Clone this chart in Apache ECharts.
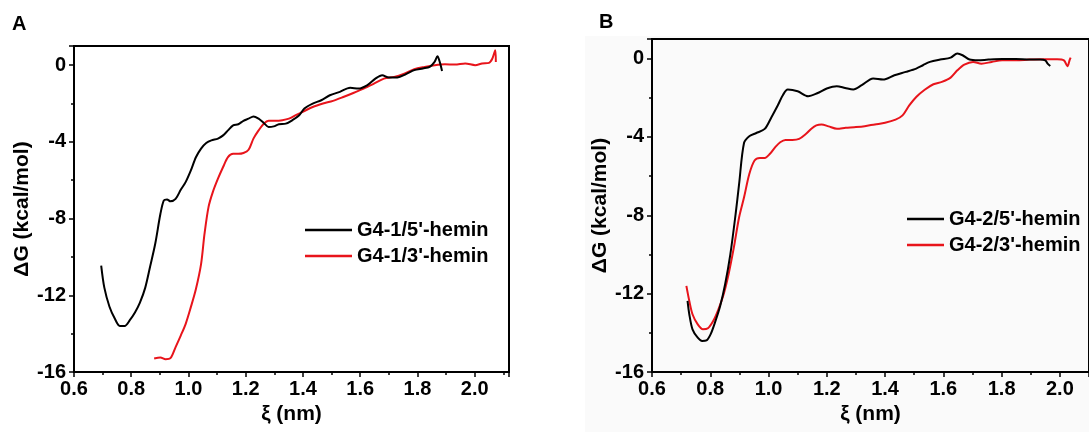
<!DOCTYPE html>
<html lang="en">
<head>
	<meta charset="UTF-8">
	<title>ΔG profiles</title>
	<style>
       html, body { margin: 0; padding: 0; background: #fff; }
       #box { width: 1089px; height: 432px; }
	</style>
	<script type="text/javascript" src="https://cdn.jsdelivr.net/npm/echarts@6/dist/echarts.min.js"></script>
</head>
<body>
	<div id="box"></div>
	<script type="text/javascript">
      // panel A, G4-1/5'-hemin (black)
      var a5_xi = [0.695,0.706,0.724,0.742,0.76,0.777,0.795,0.813,0.83,0.849,0.866,0.884,0.902,0.914,0.925,0.937,0.955,0.973,0.99,1.008,1.026,1.044,1.062,1.08,1.103,1.121,1.138,1.156,1.174,1.192,1.21,1.227,1.245,1.263,1.28,1.298,1.316,1.34,1.363,1.387,1.405,1.434,1.464,1.494,1.529,1.565,1.594,1.624,1.653,1.677,1.7,1.73,1.76,1.789,1.819,1.843,1.86,1.87,1.878,1.886];
      var a5_dg = [-10.45,-11.6,-12.6,-13.2,-13.6,-13.6,-13.3,-12.9,-12.4,-11.6,-10.5,-9.3,-7.75,-7.05,-7.0,-7.1,-6.97,-6.5,-6.1,-5.5,-4.8,-4.35,-4.06,-3.92,-3.83,-3.66,-3.4,-3.14,-3.08,-2.9,-2.79,-2.67,-2.79,-3.01,-3.22,-3.19,-3.08,-3.05,-2.87,-2.61,-2.26,-2.0,-1.83,-1.57,-1.39,-1.18,-1.22,-1.05,-0.7,-0.52,-0.64,-0.64,-0.47,-0.26,-0.17,-0.09,0.17,0.47,0.17,-0.3];
      // panel A, G4-1/3'-hemin (red)
      var a3_xi = [0.88,0.902,0.92,0.937,0.955,0.973,0.99,1.008,1.026,1.044,1.056,1.07,1.085,1.103,1.121,1.138,1.156,1.174,1.192,1.21,1.227,1.245,1.263,1.28,1.304,1.328,1.351,1.375,1.405,1.434,1.47,1.505,1.541,1.576,1.612,1.648,1.683,1.719,1.754,1.789,1.825,1.86,1.896,1.931,1.967,2.002,2.026,2.05,2.062,2.072,2.074];
      var a3_dg = [-15.3,-15.24,-15.33,-15.28,-14.7,-14.1,-13.5,-12.63,-11.67,-10.37,-8.8,-7.4,-6.62,-5.92,-5.31,-4.79,-4.62,-4.62,-4.58,-4.41,-3.83,-3.4,-3.05,-2.9,-2.9,-2.87,-2.79,-2.61,-2.39,-2.18,-2.0,-1.86,-1.66,-1.45,-1.22,-0.96,-0.7,-0.61,-0.44,-0.21,-0.09,0,0.05,0.03,0.09,0,0.09,0.12,0.35,0.78,0.17];
      // panel B, G4-2/5'-hemin (black)
      var b5_xi = [0.722,0.728,0.739,0.757,0.772,0.787,0.801,0.816,0.834,0.851,0.869,0.887,0.899,0.916,0.935,0.958,0.987,1.01,1.032,1.049,1.066,1.1,1.136,1.167,1.2,1.234,1.263,1.291,1.32,1.359,1.393,1.432,1.471,1.507,1.53,1.554,1.589,1.625,1.648,1.666,1.69,1.719,1.755,1.802,1.849,1.896,1.932,1.95,1.958,1.967];
      var b5_dg = [-12.37,-13.05,-13.82,-14.25,-14.42,-14.39,-14.08,-13.48,-12.63,-11.52,-9.98,-7.94,-6.4,-4.3,-3.95,-3.8,-3.59,-2.99,-2.38,-1.87,-1.58,-1.67,-1.92,-1.77,-1.53,-1.41,-1.5,-1.58,-1.36,-1.02,-1.07,-0.85,-0.68,-0.51,-0.34,-0.17,-0.05,0.05,0.26,0.17,-0.05,-0.09,-0.05,-0.02,-0.02,-0.05,-0.05,-0.09,-0.26,-0.38];
      // panel B, G4-2/3'-hemin (red)
      var b3_xi = [0.718,0.728,0.739,0.757,0.775,0.792,0.81,0.828,0.846,0.863,0.881,0.899,0.916,0.934,0.952,0.97,0.987,1.005,1.023,1.04,1.058,1.082,1.105,1.129,1.147,1.164,1.182,1.206,1.235,1.265,1.294,1.33,1.365,1.4,1.436,1.46,1.483,1.507,1.536,1.566,1.595,1.625,1.648,1.672,1.702,1.731,1.766,1.802,1.849,1.896,1.943,1.991,2.014,2.026,2.034,2.037];
      var b3_dg = [-11.6,-12.37,-13.05,-13.57,-13.82,-13.77,-13.4,-12.8,-12.03,-11.0,-9.64,-8.1,-7.08,-5.89,-5.2,-5.07,-5.07,-4.86,-4.52,-4.27,-4.15,-4.15,-4.1,-3.84,-3.58,-3.41,-3.36,-3.46,-3.58,-3.53,-3.5,-3.45,-3.36,-3.28,-3.12,-2.9,-2.39,-1.96,-1.59,-1.31,-1.19,-0.97,-0.6,-0.31,-0.17,-0.26,-0.17,-0.09,-0.09,-0.05,-0.03,-0.03,-0.09,-0.39,-0.05,0.05];

      var namesA = ["G4-1/5'-hemin", "G4-1/3'-hemin"];
      var namesB = ["G4-2/5'-hemin", "G4-2/3'-hemin"];

      var zip = function(xs, ys){
        var out = [];
        for (var i = 0; i < xs.length; i++) out.push([xs[i], ys[i]]);
        return out;
      };

      var FONT = 'Liberation Sans, Arial, sans-serif';

      var makeX = function(idx, max){
        return {
          gridIndex: idx, type: 'value', min: 0.6, max: max, interval: 0.2,
          name: 'ξ (nm)', nameLocation: 'middle', nameGap: 32,
          nameTextStyle: { color: '#000', fontSize: 21, fontWeight: 'bold', fontFamily: FONT },
          axisLine: { onZero: false, lineStyle: { color: '#000', width: 2 } },
          axisTick: { inside: false, length: 5, lineStyle: { color: '#000', width: 1.5 } },
          minorTick: { show: true, splitNumber: 2, length: 3, lineStyle: { color: '#000', width: 1.5 } },
          splitLine: { show: false },
          axisLabel: {
            color: '#000', fontSize: 20, fontWeight: 'bold', fontFamily: FONT, margin: 7,
            showMaxLabel: false,
            formatter: function(v){ return v.toFixed(1); }
          }
        };
      };
      var makeY = function(idx){
        return {
          gridIndex: idx, type: 'value', min: -16, max: 1, interval: 4,
          name: 'ΔG (kcal/mol)', nameLocation: 'middle', nameGap: 38, nameRotate: 90,
          nameTextStyle: { color: '#000', fontSize: 21, fontWeight: 'bold', fontFamily: FONT },
          axisLine: { onZero: false, lineStyle: { color: '#000', width: 2 } },
          axisTick: { inside: false, length: 5, lineStyle: { color: '#000', width: 1.5 } },
          minorTick: { show: true, splitNumber: 2, length: 3, lineStyle: { color: '#000', width: 1.5 } },
          splitLine: { show: false },
          axisLabel: { color: '#000', fontSize: 20, fontWeight: 'bold', fontFamily: FONT, margin: 8, showMaxLabel: false }
        };
      };
      var makeLine = function(name, idx, color, data){
        return {
          name: name, type: 'line', xAxisIndex: idx, yAxisIndex: idx,
          data: data, symbol: 'none', smooth: 0.3,
          lineStyle: { color: color, width: 2 }, itemStyle: { color: color },
          z: color === '#000' ? 3 : 2
        };
      };

      var chart = echarts.init(document.getElementById('box'));
      var option = {
        animation: false,
        backgroundColor: '#fff',
        graphic: [
          { type: 'rect', left: 585, top: 36, shape: { width: 504, height: 396 }, style: { fill: '#fafafa' }, z: -10 },
          { type: 'text', left: 12, top: 14, style: { text: 'A', fontSize: 20, fontWeight: 'bold', fontFamily: FONT, fill: '#000' } },
          { type: 'text', left: 599, top: 12, style: { text: 'B', fontSize: 20, fontWeight: 'bold', fontFamily: FONT, fill: '#000' } }
        ],
        grid: [
          { left: 74, top: 46, width: 435, height: 326, show: true, borderColor: '#000', borderWidth: 2, backgroundColor: 'transparent' },
          { left: 652, top: 39, width: 445, height: 333, show: true, borderColor: '#000', borderWidth: 2, backgroundColor: 'transparent' }
        ],
        legend: [
          {
            data: namesA, orient: 'vertical', left: 300, top: 215, icon: 'rect', itemWidth: 47, itemHeight: 2.5, itemGap: 6,
            textStyle: { color: '#000', fontSize: 20, fontWeight: 'bold', fontFamily: FONT }
          },
          {
            data: namesB, orient: 'vertical', left: 902, top: 204, icon: 'rect', itemWidth: 37, itemHeight: 2.5, itemGap: 6,
            textStyle: { color: '#000', fontSize: 20, fontWeight: 'bold', fontFamily: FONT }
          }
        ],
        xAxis: [ makeX(0, 2.12), makeX(1, 2.1) ],
        yAxis: [ makeY(0), makeY(1) ],
        series: [
          makeLine(namesA[1], 0, '#e8141b', zip(a3_xi, a3_dg)),
          makeLine(namesA[0], 0, '#000', zip(a5_xi, a5_dg)),
          makeLine(namesB[1], 1, '#e8141b', zip(b3_xi, b3_dg)),
          makeLine(namesB[0], 1, '#000', zip(b5_xi, b5_dg))
        ]
      };
      chart.setOption(option);
	</script>
</body>
</html>
